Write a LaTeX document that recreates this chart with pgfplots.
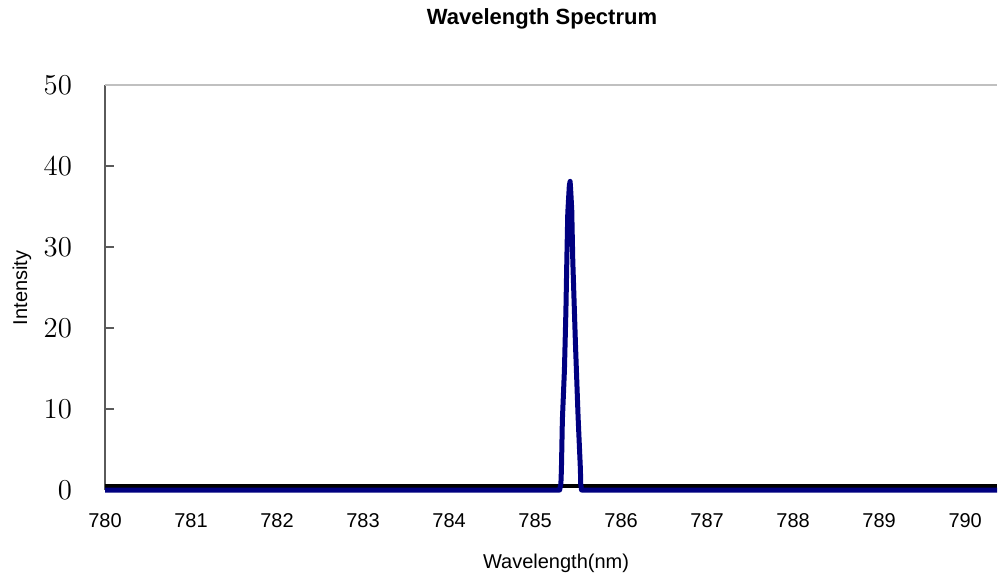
\documentclass[border=0pt]{standalone}
\usepackage{pgfplots}
\pgfplotsset{compat=1.18}
\usepackage{fontspec}
\setmainfont{Liberation Sans}
\definecolor{navyline}{HTML}{000080}
\definecolor{spine}{HTML}{5A5A5A}
\definecolor{frameline}{HTML}{C0C0C0}

\begin{document}
\begin{tikzpicture}
\begin{axis}[
    scale only axis,
    width=446pt, height=202.5pt,
    xmin=780, xmax=790.37,
    ymin=0, ymax=50,
    clip=false,
    axis x line*=bottom,
    axis y line*=left,
    x axis line style={draw=none},
    y axis line style={spine, line width=0.7pt},
    xtick={780,...,790},
    xticklabels={780,781,782,783,784,785,786,787,788,789,790},
    xtick style={draw=none},
    ytick={0,10,...,50},
    tick align=inside,
    major tick length=4.5pt,
    ytick style={spine, line width=0.6pt},
    xticklabel style={font=\fontsize{10}{12}\selectfont, yshift=-8.2pt},
    yticklabel style={font=\fontsize{13.5}{15}\selectfont, xshift=-13pt},
]
    \draw[frameline, line width=0.6pt] (rel axis cs:0,1) -- (rel axis cs:1,1);

    % baseline band
    \addplot[black, line width=2pt] coordinates {(780,0.5) (790.37,0.5)};

    % spectrum
    \addplot[navyline, line width=2.5pt, line join=round] coordinates {
        (780,0)
        (785.285,0)
        (785.300,0.8)
        (785.306,2.5)
        (785.317,8.6)
        (785.341,14.8)
        (785.358,22.0)
        (785.369,28.4)
        (785.380,34.2)
        (785.398,37.6)
        (785.407,38.1)
        (785.414,37.0)
        (785.426,34.6)
        (785.438,28.4)
        (785.469,18.1)
        (785.500,9.0)
        (785.527,2.5)
        (785.530,0.8)
        (785.540,0)
        (790.37,0)
    };
\end{axis}
\coordinate (O) at (current axis.south west);
\node[font=\bfseries\fontsize{11}{13}\selectfont] at ([shift={(218.5pt,235.5pt)}]O) {Wavelength Spectrum};
\node[rotate=90, font=\fontsize{10}{12}\selectfont] at ([shift={(-41.5pt,101pt)}]O) {Intensity};
\node[font=\fontsize{10}{12}\selectfont] at ([shift={(225.5pt,-36.5pt)}]O) {Wavelength(nm)};
\pgfresetboundingbox
\path ([shift={(-52.5pt,-43.5pt)}]O) rectangle ([shift={(447pt,245pt)}]O);
\end{tikzpicture}
\end{document}
